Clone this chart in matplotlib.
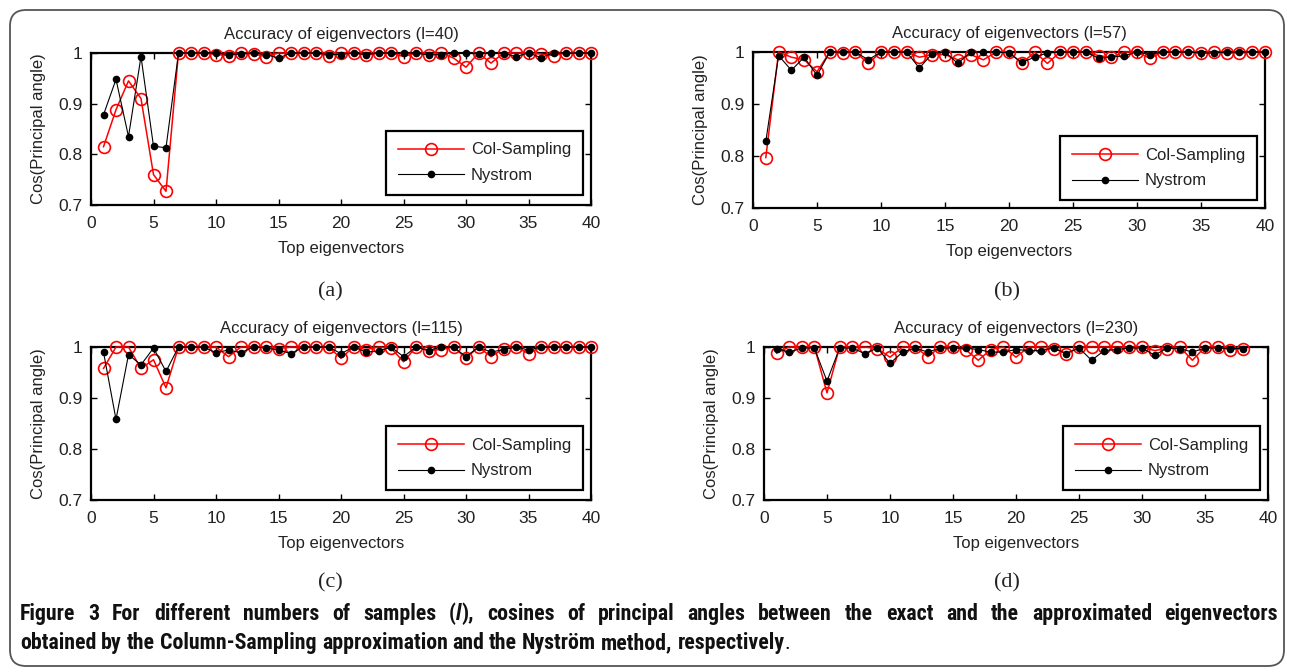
import matplotlib
matplotlib.use("Agg")
import matplotlib.pyplot as plt
from matplotlib import font_manager as fm
from matplotlib.patches import FancyBboxPatch
from matplotlib.transforms import IdentityTransform

# ---------------- data ----------------
eig_40 = list(range(1, 41))
eig_38 = list(range(1, 39))

a_col = [0.815, 0.888, 0.945, 0.910, 0.760, 0.727, 1.0, 1.0, 1.0, 0.997,
         0.995, 1.0, 0.998, 0.993, 1.0, 1.0, 1.0, 1.0, 0.995, 1.0,
         1.0, 0.996, 1.0, 1.0, 0.993, 1.0, 0.997, 1.0, 0.990, 0.972,
         1.0, 0.980, 1.0, 1.0, 1.0, 0.998, 0.995, 1.0, 1.0, 1.0]
a_nys = [0.878, 0.948, 0.835, 0.993, 0.816, 0.813, 1.0, 1.0, 1.0, 1.0,
         0.997, 0.998, 1.0, 0.997, 0.990, 1.0, 1.0, 1.0, 0.997, 0.997,
         1.0, 0.997, 1.0, 1.0, 1.0, 1.0, 0.996, 0.997, 1.0, 1.0,
         0.998, 1.0, 0.999, 0.993, 1.0, 0.991, 1.0, 1.0, 1.0, 1.0]

b_col = [0.797, 1.0, 0.990, 0.985, 0.962, 1.0, 0.998, 1.0, 0.978, 1.0,
         1.0, 1.0, 0.990, 0.995, 0.995, 0.985, 0.995, 0.985, 1.0, 1.0,
         0.978, 1.0, 0.978, 1.0, 1.0, 1.0, 0.993, 0.990, 1.0, 1.0,
         0.988, 1.0, 1.0, 1.0, 0.998, 1.0, 0.998, 0.998, 1.0, 1.0]
b_nys = [0.828, 0.993, 0.965, 0.990, 0.955, 1.0, 1.0, 1.0, 0.985, 1.0,
         1.0, 1.0, 0.969, 0.997, 1.0, 0.978, 1.0, 1.0, 1.0, 0.998,
         0.980, 0.990, 0.998, 1.0, 1.0, 1.0, 0.988, 0.990, 0.993, 1.0,
         0.995, 1.0, 1.0, 1.0, 0.998, 0.998, 1.0, 1.0, 1.0, 1.0]

c_col = [0.958, 1.0, 1.0, 0.958, 0.975, 0.920, 1.0, 1.0, 1.0, 1.0,
         0.981, 1.0, 1.0, 1.0, 0.997, 1.0, 1.0, 1.0, 1.0, 0.978,
         1.0, 0.995, 1.0, 0.998, 0.971, 1.0, 0.993, 0.995, 1.0, 0.978,
         1.0, 0.981, 0.997, 1.0, 0.987, 1.0, 1.0, 1.0, 1.0, 1.0]
c_nys = [0.990, 0.858, 0.985, 0.965, 0.998, 0.952, 1.0, 1.0, 1.0, 0.989,
         0.994, 0.989, 1.0, 0.998, 0.994, 0.987, 1.0, 1.0, 1.0, 0.987,
         1.0, 0.990, 0.992, 1.0, 0.981, 1.0, 0.993, 1.0, 1.0, 0.981,
         1.0, 0.990, 0.995, 1.0, 0.994, 1.0, 1.0, 1.0, 1.0, 1.0]

d_col = [0.988, 1.0, 1.0, 1.0, 0.910, 1.0, 1.0, 1.0, 0.997, 0.980,
         1.0, 1.0, 0.981, 1.0, 1.0, 0.995, 0.974, 0.995, 1.0, 0.980,
         1.0, 1.0, 0.997, 0.987, 1.0, 1.0, 1.0, 1.0, 1.0, 1.0,
         0.993, 0.997, 1.0, 0.974, 1.0, 1.0, 0.995, 0.997]
d_nys = [0.997, 0.990, 0.998, 0.998, 0.933, 0.998, 0.998, 0.987, 0.998, 0.968,
         0.990, 0.998, 0.990, 0.998, 0.998, 0.998, 0.995, 0.990, 0.990, 0.995,
         0.993, 0.993, 0.998, 0.987, 0.998, 0.974, 0.993, 0.995, 0.998, 0.998,
         0.984, 0.998, 0.997, 0.990, 0.998, 0.998, 0.997, 0.997]

titles = ["Accuracy of eigenvectors (l=40)", "Accuracy of eigenvectors (l=57)",
          "Accuracy of eigenvectors (l=115)", "Accuracy of eigenvectors (l=230)"]
panel_tags = ["(a)", "(b)", "(c)", "(d)"]
series_names = ["Col-Sampling", "Nystrom"]
x_ticks = [0, 5, 10, 15, 20, 25, 30, 35, 40]
y_ticks = [0.7, 0.8, 0.9, 1.0]
y_tick_labels = ["0.7", "0.8", "0.9", "1"]
x_label = "Top eigenvectors"
y_label = "Cos(Principal angle)"

# ---------------- figure ----------------
W, H = 1290, 672
plt.rcParams["font.family"] = ["Liberation Sans", "DejaVu Sans"]
TXT = "#222222"
fig = plt.figure(figsize=(W / 100, H / 100), dpi=100)
fig.patch.set_facecolor("white")

# outer rounded frame (pixel coords, origin bottom-left)
frame = FancyBboxPatch((10, 6), 1274, 656,
                       boxstyle="round,pad=0,rounding_size=16",
                       transform=IdentityTransform(), fill=False,
                       edgecolor="#555555", linewidth=1.3)
fig.add_artist(frame)


def px_axes(l, t, r, b):
    return fig.add_axes([l / W, 1 - b / H, (r - l) / W, (b - t) / H])


# (left, top, right, bottom) pixels
boxes = [(91, 53, 591, 205), (753, 52, 1265, 208),
         (91, 347, 591, 500), (764, 347, 1268, 500)]
tag_pos = [(330, 292), (1007, 292), (330, 583), (1007, 583)]
legend_anchor = [(0.984, 0.066), (0.984, 0.051), (0.984, 0.065), (0.984, 0.065)]
panels = [(eig_40, a_col, a_nys), (eig_40, b_col, b_nys),
          (eig_40, c_col, c_nys), (eig_38, d_col, d_nys)]

for i, (box, (xs, col, nys)) in enumerate(zip(boxes, panels)):
    ax = px_axes(*box)
    ax.plot(xs, col, color="red", lw=1.1, marker="o", ms=8.5, mfc="none",
            mec="red", mew=1.2, clip_on=False, label=series_names[0], zorder=3)
    ax.plot(xs, nys, color="black", lw=0.8, marker="o", ms=4.5, mfc="black",
            mec="black", clip_on=False, label=series_names[1], zorder=4)
    ax.set_xlim(0, 40)
    ax.set_ylim(0.7, 1.0)
    ax.set_xticks(x_ticks)
    ax.set_xticklabels([str(v) for v in x_ticks])
    ax.set_yticks(y_ticks)
    ax.set_yticklabels(y_tick_labels)
    ax.tick_params(direction="in", top=True, right=True, length=4, width=1,
                   labelsize=12.5, colors="black", labelcolor=TXT)
    ax.tick_params(axis="x", pad=8)
    ax.tick_params(axis="y", pad=6)
    for s in ax.spines.values():
        s.set_linewidth(1.6)
        s.set_color("black")
    ax.set_title(titles[i], fontsize=12, color=TXT, pad=10)
    ax.set_xlabel(x_label, fontsize=12, color=TXT, labelpad=7)
    ax.set_ylabel(y_label, fontsize=12, color=TXT, labelpad=9)
    leg = ax.legend(loc="lower right", bbox_to_anchor=legend_anchor[i],
                    borderaxespad=0, fancybox=False, framealpha=1,
                    edgecolor="black", fontsize=12, handlelength=4.0,
                    handletextpad=0.4, labelspacing=0.65, borderpad=0.7,
                    numpoints=1)
    leg.get_frame().set_linewidth(1.6)
    for t in leg.get_texts():
        t.set_color(TXT)
    tx, ty = tag_pos[i]
    fig.text(tx / W, 1 - ty / H, panel_tags[i], fontsize=16, color=TXT,
             family=["Liberation Serif", "DejaVu Serif"], ha="center", va="center")

# ---------------- caption ----------------
names = {f.name for f in fm.fontManager.ttflist}
cap_family = next((n for n in ["Liberation Sans Narrow", "Roboto Condensed",
                               "Open Sans Condensed", "Liberation Sans"]
                   if n in names), "DejaVu Sans")

cap_line1 = [[("Figure", "b")], [("3", "b")], [("For", "b")], [("different", "b")],
             [("numbers", "b")], [("of", "b")], [("samples", "b")],
             [("(", "b"), ("l", "bi"), ("),", "b")], [("cosines", "b")], [("of", "b")],
             [("principal", "b")], [("angles", "b")], [("between", "b")], [("the", "b")],
             [("exact", "b")], [("and", "b")], [("the", "b")], [("approximated", "b")],
             [("eigenvectors", "b")]]
cap_line2_text = "obtained by the Column-Sampling approximation and the Nyström method, respectively"
cap_line2 = [[(w, "b")] for w in cap_line2_text.split(" ")]
cap_line2[-1].append((".", "r"))

styles = {"b": dict(weight="bold", style="normal"),
          "bi": dict(weight="bold", style="italic"),
          "r": dict(weight="normal", style="normal")}

fig.canvas.draw()
rend = fig.canvas.get_renderer()


def cap_props(st, fs):
    return fm.FontProperties(family=cap_family, size=fs, **styles[st])


def width_of(text, st, fs):
    t = fig.text(0, 0, text, fontproperties=cap_props(st, fs))
    w = t.get_window_extent(renderer=rend).width
    t.remove()
    return w


def line_width(words, fs):
    sp = width_of("x x", "b", fs) - width_of("xx", "b", fs)
    return sum(width_of(p, s, fs) for w in words for p, s in w) + sp * (len(words) - 1), sp


def draw_line(words, fs, x0, baseline, target=None):
    nat, sp = line_width(words, fs)
    gap = sp
    if target is not None and nat < target:
        gap = sp + (target - nat) / (len(words) - 1)
    x = x0
    for w in words:
        for p, s in w:
            fig.text(round(x) / W, 1 - baseline / H, p, fontproperties=cap_props(s, fs),
                     color="#111111", ha="left", va="baseline")
            x += width_of(p, s, fs)
        x += gap


base_fs = 14
w2, _ = line_width(cap_line2, base_fs)
cap_fs = base_fs * 775 / w2
w1, _ = line_width(cap_line1, cap_fs)
if w1 > 1258:
    cap_fs *= 1258 / w1
draw_line(cap_line1, cap_fs, 20, 620, target=1258)
draw_line(cap_line2, cap_fs, 20, 649)

fig.savefig("out.png", dpi=100, facecolor="white")
